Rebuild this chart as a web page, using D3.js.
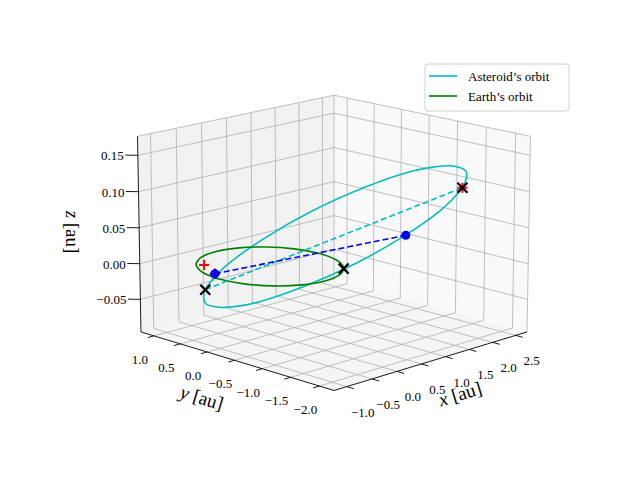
<!DOCTYPE html>
<html>
<head>
<meta charset="utf-8">
<script src="https://cdn.jsdelivr.net/npm/d3@7"></script>
<style>
body { margin: 0; background: #fff; }
text { font-family: "Liberation Serif", "DejaVu Serif", serif; }
</style>
</head>
<body>
<svg id="chart" width="640" height="480"></svg>
<script>
// orbit points [x, y, z] in au
var asteroidOrbit = [
  [-0.746, 0.503, -0.030], [-0.299, 0.922, -0.067], [0.308, 1.122, -0.088], [0.981, 1.077, -0.091],
  [1.618, 0.790, -0.074], [2.123, 0.307, -0.041], [2.418, -0.300, 0.004], [2.459, -0.938, 0.053],
  [2.238, -1.509, 0.100], [1.791, -1.928, 0.137], [1.184, -2.128, 0.158], [0.511, -2.083, 0.161],
  [-0.126, -1.796, 0.144], [-0.631, -1.313, 0.111], [-0.926, -0.706, 0.066], [-0.967, -0.068, 0.017]
];
var earthOrbit = [
  [1, 0, 0], [0.924, 0.383, 0], [0.707, 0.707, 0], [0.383, 0.924, 0],
  [0, 1, 0], [-0.383, 0.924, 0], [-0.707, 0.707, 0], [-0.924, 0.383, 0],
  [-1, 0, 0], [-0.924, -0.383, 0], [-0.707, -0.707, 0], [-0.383, -0.924, 0],
  [0, -1, 0], [0.383, -0.924, 0], [0.707, -0.707, 0], [0.924, -0.383, 0]
];
var apsides = [[-0.746, 0.503, -0.030], [2.238, -1.509, 0.100]];
var sightLine = [[-0.85, 0.22, 0], [2.43, -0.36, 0.008]];
var blackCrosses = [[-0.746, 0.503, -0.030], [2.238, -1.509, 0.100], [0.656, -0.755, 0]];
var redPluses = [[-0.64, 0.62, 0.0], [-0.85, 0.22, 0], [2.238, -1.509, 0.100]];
var bluePluses = [[-0.85, 0.22, 0]];
var blueDots = [[-0.85, 0.22, 0], [2.43, -0.36, 0.008]];

var xTicks = [-1.0, -0.5, 0.0, 0.5, 1.0, 1.5, 2.0, 2.5];
var yTicks = [1.0, 0.5, 0.0, -0.5, -1.0, -1.5, -2.0];
var zTicks = [-0.05, 0.00, 0.05, 0.10, 0.15];
var xLim = [-1.25, 2.75], yLim = [-2.25, 1.25], zLim = [-0.096, 0.176];

var svg = d3.select("#chart");
var sx = d3.scaleLinear().domain(xLim).range([-2, 2]);
var sy = d3.scaleLinear().domain(yLim).range([-2, 2]);
var sz = d3.scaleLinear().domain(zLim).range([-1.5, 1.5]);

var elev = 15 * Math.PI / 180, D = 44, k = 67.5, cx = 334, cy = 235;
var se = Math.sin(elev), ce = Math.cos(elev), r2 = Math.SQRT1_2;

var project = function(p){
  var X = sx(p[0]), Y = sy(p[1]), Z = sz(p[2]);
  var pr = (X - Y) * r2;
  var pu = r2 * se * (X + Y) + ce * Z;
  var depth = -r2 * ce * (X + Y) + se * Z;
  var s = D / (D - depth);
  return [cx + k * 1.02 * s * pr, cy - k * s * pu];
};

var poly = function(pts){
  return pts.map(function(p){ return project(p).join(","); }).join(" ");
};

// panes
var x0 = xLim[0], x1 = xLim[1], y0 = yLim[0], y1 = yLim[1], z0 = zLim[0], z1 = zLim[1];
svg.append("polygon").attr("points", poly([[x0,y0,z0],[x1,y0,z0],[x1,y1,z0],[x0,y1,z0]])).attr("fill", "#f5f5f5");
svg.append("polygon").attr("points", poly([[x0,y1,z0],[x1,y1,z0],[x1,y1,z1],[x0,y1,z1]])).attr("fill", "#f2f2f2");
svg.append("polygon").attr("points", poly([[x1,y0,z0],[x1,y1,z0],[x1,y1,z1],[x1,y0,z1]])).attr("fill", "#f9f9f9");

// grid
var grid = svg.append("g").attr("stroke", "#b0b0b0").attr("stroke-width", 0.8);
var seg = function(a, b){
  var pa = project(a), pb = project(b);
  grid.append("line").attr("x1", pa[0]).attr("y1", pa[1]).attr("x2", pb[0]).attr("y2", pb[1]);
};
xTicks.forEach(function(t){ seg([t,y0,z0],[t,y1,z0]); seg([t,y1,z0],[t,y1,z1]); });
yTicks.forEach(function(t){ seg([x0,t,z0],[x1,t,z0]); seg([x1,t,z0],[x1,t,z1]); });
zTicks.forEach(function(t){ seg([x0,y1,t],[x1,y1,t]); seg([x1,y1,t],[x1,y0,t]); });
// pane edges
seg([x0,y1,z1],[x1,y1,z1]); seg([x1,y1,z1],[x1,y0,z1]); seg([x1,y1,z0],[x1,y1,z1]);
seg([x1,y0,z0],[x1,y0,z1]);

// axis lines + ticks
var axes = svg.append("g").attr("stroke", "#000").attr("stroke-width", 0.9);
var aline = function(a, b){
  var pa = project(a), pb = project(b);
  axes.append("line").attr("x1", pa[0]).attr("y1", pa[1]).attr("x2", pb[0]).attr("y2", pb[1]);
};
aline([x0,y0,z0],[x1,y0,z0]);
aline([x0,y0,z0],[x0,y1,z0]);
aline([x0,y1,z0],[x0,y1,z1]);
xTicks.forEach(function(t){ aline([t,y0,z0],[t,y0-0.12,z0]); });
yTicks.forEach(function(t){ aline([x0,t,z0],[x0-0.12,t,z0]); });
zTicks.forEach(function(t){ aline([x0,y1,t],[x0-0.12,y1+0.12,t]); });

var fmt = function(v){ return (v < 0 ? "\u2212" : "") + Math.abs(v).toFixed(1); };
var labels = svg.append("g").attr("font-size", 13).attr("fill", "#000");
xTicks.forEach(function(t){
  var p = project([t,y0,z0]);
  labels.append("text").attr("x", p[0] + 16).attr("y", p[1] + 30).attr("text-anchor", "middle").text(fmt(t));
});
yTicks.forEach(function(t){
  var p = project([x0,t,z0]);
  labels.append("text").attr("x", p[0] - 14).attr("y", p[1] + 28).attr("text-anchor", "middle").text(fmt(t));
});
zTicks.forEach(function(t){
  var p = project([x0,y1,t]);
  labels.append("text").attr("x", p[0] - 14).attr("y", p[1] + 5).attr("text-anchor", "end").text(t.toFixed(2).replace("-", "\u2212"));
});

// axis labels
var axLabel = function(x, y, rot, v){
  var t = svg.append("text").attr("font-size", 19).attr("text-anchor", "middle")
    .attr("transform", "translate(" + x + "," + y + ") rotate(" + rot + ")");
  t.append("tspan").attr("font-style", "italic").text(v);
  t.append("tspan").text(" [au]");
};
axLabel(462, 400, -17, "x");
axLabel(200, 404, 17, "y");
axLabel(66, 232, 90, "z");

// data lines
var line = d3.line().curve(d3.curveCardinalClosed.tension(0.2));
var plain = d3.line();
svg.append("path").attr("d", line(asteroidOrbit.map(project))).attr("fill", "none").attr("stroke", "#00bfbf").attr("stroke-width", 1.6);
svg.append("path").attr("d", line(earthOrbit.map(project))).attr("fill", "none").attr("stroke", "#008000").attr("stroke-width", 1.6);
svg.append("path").attr("d", plain(apsides.map(project))).attr("fill", "none").attr("stroke", "#00bfbf").attr("stroke-width", 1.6).attr("stroke-dasharray", "6,3");
svg.append("path").attr("d", plain(sightLine.map(project))).attr("fill", "none").attr("stroke", "#0000ff").attr("stroke-width", 1.6).attr("stroke-dasharray", "6,3");

svg.selectAll(".bdot").data(blueDots).enter().append("circle")
  .attr("cx", function(d){ return project(d)[0]; }).attr("cy", function(d){ return project(d)[1]; })
  .attr("r", 4.5).attr("fill", "#0000ff");
var plus = function(data, color){
  data.forEach(function(d){
    var p = project(d);
    svg.append("path").attr("d", "M" + (p[0]-5) + "," + p[1] + "h10M" + p[0] + "," + (p[1]-5) + "v10")
      .attr("stroke", color).attr("stroke-width", 2);
  });
};
plus(redPluses, "#ff0000");
plus(bluePluses, "#0000ff");
blackCrosses.forEach(function(d){
  var p = project(d);
  svg.append("path").attr("d", "M" + (p[0]-5) + "," + (p[1]-5) + "l10,10M" + (p[0]-5) + "," + (p[1]+5) + "l10,-10")
    .attr("stroke", "#000").attr("stroke-width", 2.2);
});

// legend
var lg = svg.append("g").attr("transform", "translate(425,64)");
lg.append("rect").attr("width", 144).attr("height", 47).attr("rx", 3).attr("fill", "#fff").attr("fill-opacity", 0.8).attr("stroke", "#d0d0d0");
var legendItems = [["Asteroid\u2019s orbit", "#00bfbf"], ["Earth\u2019s orbit", "#008000"]];
legendItems.forEach(function(d, i){
  lg.append("line").attr("x1", 4).attr("x2", 32).attr("y1", 12 + i * 20).attr("y2", 12 + i * 20).attr("stroke", d[1]).attr("stroke-width", 1.6);
  lg.append("text").attr("x", 43).attr("y", 16.5 + i * 20).attr("font-size", 13).text(d[0]);
});
</script>
</body>
</html>
